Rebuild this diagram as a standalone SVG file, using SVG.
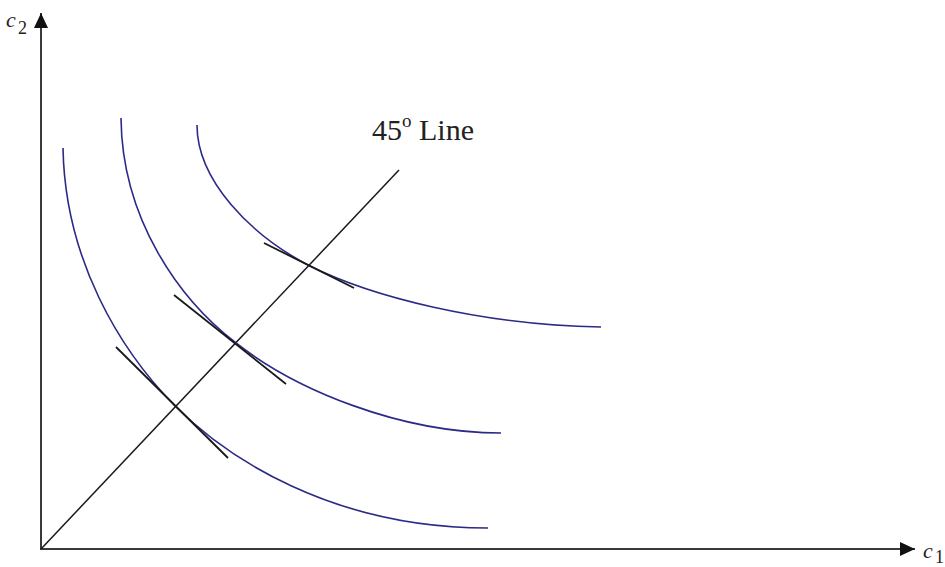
<svg xmlns="http://www.w3.org/2000/svg" width="945" height="567" viewBox="0 0 945 567">
<style>
.axis{stroke:#3a3a3a;stroke-width:2;fill:none}
.curve{stroke:#2b2a86;stroke-width:1.6;fill:none}
.tan{stroke:#1a1a1a;stroke-width:1.8;fill:none}
.diag{stroke:#1a1a1a;stroke-width:1.5;fill:none}
.lbl{font-family:"Liberation Serif","Times New Roman",serif;fill:#222}
</style>
<defs>
<marker id="arr" markerWidth="15" markerHeight="14" refX="15" refY="7" orient="auto" markerUnits="userSpaceOnUse" viewBox="0 0 15 14">
<path d="M0,0 L15,7 L0,14 z" fill="#111"/>
</marker>
</defs>
<rect width="945" height="567" fill="#fff"/>
<g id="connectors">
<line class="axis" x1="41" y1="550" x2="41" y2="13" marker-end="url(#arr)"/>
<line class="axis" x1="40" y1="549" x2="915" y2="549" marker-end="url(#arr)"/>
<line id="line45" class="diag" x1="41" y1="549" x2="399" y2="170"/>
</g>
<g id="curve1">
<path class="curve" d="M63,148 C65,260 120,350 175,406 C225,456 330,528 488,528"/>
<line class="tan" x1="116" y1="347" x2="228" y2="458"/>
</g>
<g id="curve2">
<path class="curve" d="M121,118 C122,220 180,300 236,343 C296,390 400,433 501,433"/>
<line class="tan" x1="174" y1="295" x2="286" y2="384"/>
</g>
<g id="curve3">
<path class="curve" d="M197,125 C197,180 250,235 310,266 C370,296 480,325 601,327"/>
<line class="tan" x1="264" y1="243" x2="354" y2="288"/>
</g>
<g id="labels">
<text class="lbl" x="6" y="27" font-size="22" font-style="italic">c</text>
<text class="lbl" x="18" y="34" font-size="18">2</text>
<text class="lbl" x="923" y="558" font-size="22" font-style="italic">c</text>
<text class="lbl" x="935" y="563" font-size="18">1</text>
<text class="lbl" x="372" y="140" font-size="30">45<tspan font-size="19" dy="-13">o</tspan><tspan dy="13"> Line</tspan></text>
</g>
</svg>
